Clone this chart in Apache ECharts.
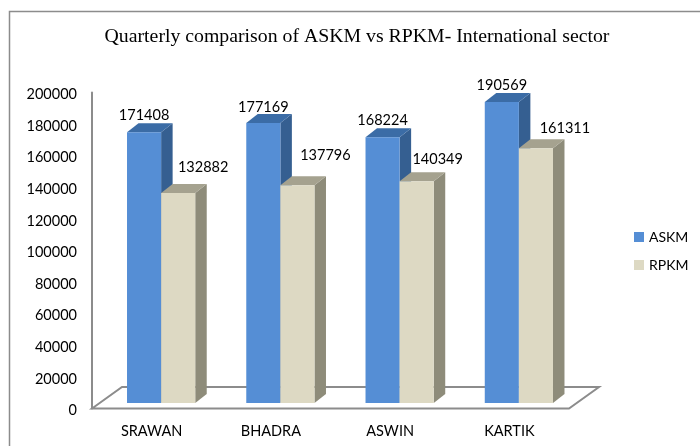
<!DOCTYPE html>
<html>
  <head>
    <meta charset="utf-8" />
    <title>Quarterly comparison of ASKM vs RPKM</title>
    <script src="https://cdn.jsdelivr.net/npm/echarts@6/dist/echarts.min.js"></script>
    <style>
      html, body { margin: 0; padding: 0; background: #fff; }
    </style>
  </head>
  <body>
    <div id="chart" style="width: 700px; height: 446px;"></div>
    <script type="text/javascript">
      var categories = ['SRAWAN', 'BHADRA', 'ASWIN', 'KARTIK'];
      var askm = [171408, 177169, 168224, 190569];
      var rpkm = [132882, 137796, 140349, 161311];

      // oblique look of the 3D bars
      var depth_x = 11.5, depth_y = 9;
      var shift_x = 9.5, shift_y = -5.5;
      var floor_x = 30, floor_y = 21.5;

      function box(pts, fill) {
        return {
          type: 'polygon',
          shape: { points: pts },
          style: { fill: fill },
          silent: true
        };
      }

      // side: -1 draws left of the band centre, 0 right of it
      function bar_renderer(side, front, top, right, label_dx, label_dy) {
        return function (params, api) {
          var idx = api.value(0);
          var base = api.coord([idx, 0]);
          var head = api.coord([idx, api.value(1)]);
          var w = api.size([1, 0])[0] * 0.286;
          var x0 = base[0] + shift_x + side * w;
          var x1 = x0 + w;
          var y0 = base[1] + shift_y;
          var y1 = head[1] + shift_y;
          return {
            type: 'group',
            children: [
              box([[x1, y0], [x1 + depth_x, y0 - depth_y], [x1 + depth_x, y1 - depth_y], [x1, y1]], right),
              box([[x0, y1], [x1, y1], [x1 + depth_x, y1 - depth_y], [x0 + depth_x, y1 - depth_y]], top),
              box([[x0, y0], [x1, y0], [x1, y1], [x0, y1]], front),
              {
                type: 'text',
                style: {
                  text: String(api.value(1)),
                  x: (x0 + x1) / 2 + label_dx[idx],
                  y: y1 + label_dy[idx],
                  align: 'center',
                  verticalAlign: 'middle',
                  fill: '#000',
                  font: '14.5px Lato'
                },
                silent: true
              }
            ]
          };
        };
      }

      function floor_renderer(params, api) {
        var band = api.size([1, 0])[0];
        var a = api.coord([0, 0]);
        var b = api.coord([categories.length - 1, 0]);
        var l = a[0] - band / 2, r = b[0] + band / 2, y = a[1];
        return {
          type: 'polygon',
          shape: { points: [[l, y], [l + floor_x, y - floor_y], [r + floor_x, y - floor_y], [r, y]] },
          style: { fill: 'none', stroke: '#8c8c8c', lineWidth: 2 },
          silent: true
        };
      }

      var chart = echarts.init(document.getElementById('chart'), null, { renderer: 'canvas' });
      chart.setOption({
        animation: false,
        textStyle: { fontFamily: 'Lato' },
        title: {
          text: 'Quarterly comparison of ASKM vs RPKM- International sector',
          left: 352,
          top: 22,
          textAlign: 'center',
          textStyle: { fontFamily: 'Liberation Serif', fontSize: 19.8, fontWeight: 'normal', color: '#000' }
        },
        graphic: [{
          type: 'rect',
          shape: { x: 9.5, y: 11.5, width: 720, height: 460 },
          style: { fill: 'none', stroke: '#8c8c8c', lineWidth: 1.5 },
          silent: true
        }],
        legend: {
          data: ['ASKM', 'RPKM'],
          orient: 'vertical',
          left: 629,
          top: 225,
          icon: 'rect',
          itemWidth: 10,
          itemHeight: 10,
          itemGap: 14,
          textStyle: { fontFamily: 'Lato', fontSize: 14, color: '#000' }
        },
        grid: { left: 92, top: 92.5, width: 477, height: 316 },
        xAxis: {
          type: 'category',
          data: categories,
          axisLine: { show: false },
          axisTick: { show: false },
          axisLabel: { fontFamily: 'Lato', fontSize: 14.5, color: '#000', margin: 15 }
        },
        yAxis: {
          type: 'value',
          min: 0,
          max: 200000,
          interval: 20000,
          axisLine: { show: true, lineStyle: { color: '#8c8c8c', width: 2 } },
          axisTick: { show: false },
          splitLine: { show: false },
          axisLabel: {
            color: '#000',
            margin: 15,
            formatter: function (v) { return '{t|' + v + '}'; },
            rich: {
              t: { fontFamily: 'Lato', fontSize: 14.5, color: '#000', padding: [4, 0, 0, 0] }
            }
          }
        },
        series: [
          {
            name: 'floor',
            type: 'custom',
            renderItem: floor_renderer,
            data: [[0, 0]],
            encode: { x: 0, y: 1 },
            z: 1
          },
          {
            name: 'ASKM',
            type: 'custom',
            renderItem: bar_renderer(-1, '#558ed5', '#3b6ca6', '#355f91', [0, 0, 0, 0], [-17, -16, -17, -17]),
            data: askm.map(function (v, i) { return [i, v]; }),
            encode: { x: 0, y: 1 },
            itemStyle: { color: '#558ed5' },
            z: 2
          },
          {
            name: 'RPKM',
            type: 'custom',
            renderItem: bar_renderer(0, '#ddd9c3', '#a5a28f', '#8e8c7a', [25, 28, 21, 29], [-26, -30, -22, -20]),
            data: rpkm.map(function (v, i) { return [i, v]; }),
            encode: { x: 0, y: 1 },
            itemStyle: { color: '#ddd9c3' },
            z: 3
          }
        ]
      });
    </script>
  </body>
</html>
